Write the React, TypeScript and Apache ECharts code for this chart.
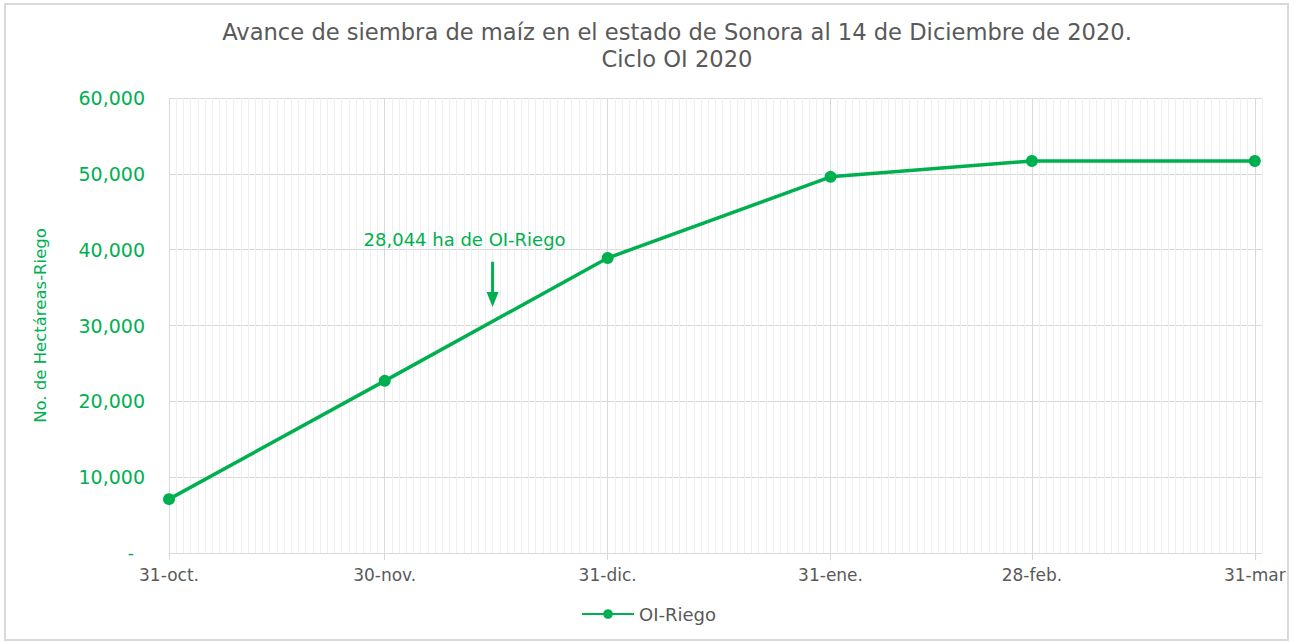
import React, { useEffect, useRef } from "react";
import * as echarts from "echarts";

const titleLines = [
  "Avance de siembra de maíz en el estado de Sonora al 14 de Diciembre de 2020.",
  "Ciclo OI 2020",
];
const seriesName = "OI-Riego";
const yAxisName = "No. de Hectáreas-Riego";
const pointDates = ["2020-10-31", "2020-11-30", "2020-12-31", "2021-01-31", "2021-02-28", "2021-03-31"];
const tickLabels = ["31-oct.", "30-nov.", "31-dic.", "31-ene.", "28-feb.", "31-mar"];
const riegoValues = [7100, 22700, 38900, 49600, 51700, 51700];
const axisStart = "2020-10-31";
const axisEnd = "2021-04-01";
const annotText = "28,044 ha de OI-Riego";
const annotDate = "2020-12-15";
const annotTextValue = 41300;
const annotArrowTop = 38400;
const annotArrowTip = 32450;

const GREEN = "#00B050";
const GRAY = "#595959";
const FONT = "DejaVu Sans";

function buildDays(): string[] {
  const out: string[] = [];
  const d = new Date(axisStart + "T00:00:00Z");
  const end = new Date(axisEnd + "T00:00:00Z");
  while (d.getTime() <= end.getTime()) {
    out.push(d.toISOString().slice(0, 10));
    d.setUTCDate(d.getUTCDate() + 1);
  }
  return out;
}

export default function App() {
  const ref = useRef<HTMLDivElement>(null);
  useEffect(() => {
    if (!ref.current) return;
    const chart = echarts.init(ref.current, undefined, { renderer: "svg" });
    const days = buildDays();
    const labelMap: Record<string, string> = {};
    pointDates.forEach((d, i) => (labelMap[d] = tickLabels[i]));
    const isMajor = (_i: number, v: string) => v in labelMap;

    chart.setOption({
      animation: false,
      textStyle: { fontFamily: FONT },
      grid: { left: 169, right: 35, top: 98, bottom: 89, containLabel: false },
      legend: {
        bottom: 14,
        left: "center",
        itemWidth: 52,
        itemHeight: 12,
        itemGap: 6,
        textStyle: { fontFamily: FONT, fontSize: 18, color: GRAY },
        data: [seriesName],
      },
      xAxis: {
        type: "category",
        data: days,
        boundaryGap: false,
        axisLine: { show: true, lineStyle: { color: "#d9d9d9", width: 1 } },
        axisTick: { show: true, interval: isMajor, length: 7, lineStyle: { color: "#d9d9d9" } },
        axisLabel: {
          interval: isMajor,
          formatter: (v: string) => labelMap[v] || "",
          color: GRAY,
          fontSize: 17,
          fontFamily: FONT,
          margin: 13,
        },
        splitLine: { show: true, interval: 0, lineStyle: { color: "#efefef", width: 1 } },
      },
      yAxis: {
        type: "value",
        min: 0,
        max: 60000,
        interval: 10000,
        name: yAxisName,
        nameLocation: "middle",
        nameGap: 120,
        nameTextStyle: { color: GREEN, fontSize: 16.5, fontFamily: FONT },
        axisLine: { show: false },
        axisTick: { show: false },
        axisLabel: {
          color: GREEN,
          fontSize: 19,
          fontFamily: FONT,
          margin: 24,
          formatter: (v: number) => (v === 0 ? "{d|-}" : v.toLocaleString("en-US")),
          rich: { d: { color: GREEN, fontSize: 17, padding: [0, 11, 0, 0] } },
        },
        splitLine: { show: true, lineStyle: { color: "#d9d9d9", width: 1 } },
      },
      series: [
        {
          name: seriesName,
          type: "line",
          data: pointDates.map((d, i) => [d, riegoValues[i]]),
          color: GREEN,
          lineStyle: { width: 3.5, color: GREEN },
          itemStyle: { color: GREEN },
          symbol: "circle",
          symbolSize: 12,
          z: 5,
          markLine: {
            silent: true,
            symbol: ["none", "none"],
            label: { show: false },
            lineStyle: { color: "#d9d9d9", width: 1, type: "solid" },
            data: pointDates.map((d) => ({ xAxis: d })),
            z: 1,
          },
        },
      ],
    });

    const [ax, textY] = chart.convertToPixel({ gridIndex: 0 }, [annotDate, annotTextValue]) as number[];
    const [, topY] = chart.convertToPixel({ gridIndex: 0 }, [annotDate, annotArrowTop]) as number[];
    const [, tipY] = chart.convertToPixel({ gridIndex: 0 }, [annotDate, annotArrowTip]) as number[];

    chart.setOption({
      graphic: [
        {
          type: "rect",
          shape: { x: 5, y: 4, width: 1283, height: 636 },
          style: { fill: "none", stroke: "#d9d9d9", lineWidth: 2 },
          silent: true,
          z: 0,
        },
        {
          type: "text",
          x: 677,
          y: 32,
          style: {
            text: titleLines[0],
            fill: GRAY,
            font: `22.6px "${FONT}"`,
            align: "center",
            verticalAlign: "middle",
          },
          z: 10,
        },
        {
          type: "text",
          x: 677,
          y: 59,
          style: {
            text: titleLines[1],
            fill: GRAY,
            font: `22.6px "${FONT}"`,
            align: "center",
            verticalAlign: "middle",
          },
          z: 10,
        },
        {
          type: "text",
          x: ax - 28,
          y: textY,
          style: {
            text: annotText,
            fill: GREEN,
            font: `18px "${FONT}"`,
            align: "center",
            verticalAlign: "middle",
          },
          z: 10,
        },
        {
          type: "line",
          shape: { x1: ax, y1: topY, x2: ax, y2: tipY - 12 },
          style: { stroke: GREEN, lineWidth: 3 },
          z: 10,
        },
        {
          type: "polygon",
          shape: { points: [[ax - 6, tipY - 15], [ax + 6, tipY - 15], [ax, tipY]] },
          style: { fill: GREEN },
          z: 10,
        },
      ],
    });

    return () => chart.dispose();
  }, []);
  return <div ref={ref} style={{ position: "fixed", left: 0, top: 0, width: 1297, height: 642, background: "#fff" }} />;
}
